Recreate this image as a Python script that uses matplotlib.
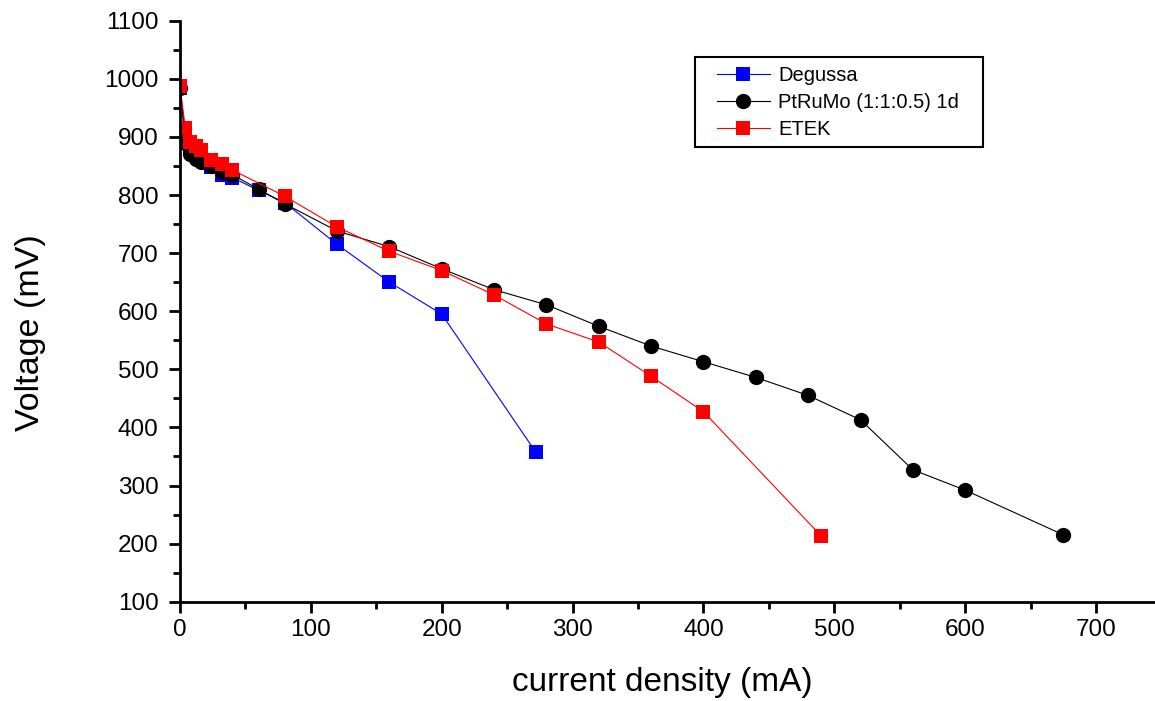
import matplotlib
matplotlib.use("Agg")
import matplotlib.pyplot as plt
from matplotlib.patches import Rectangle
from matplotlib.ticker import MultipleLocator

plt.rcParams["font.family"] = ["Liberation Sans", "DejaVu Sans"]

# Degussa
degussa_x = [0, 4, 8, 12, 16, 24, 32, 40, 60, 80, 120, 160, 200, 272]
degussa_y = [984, 905, 885, 872, 862, 848, 835, 830, 808, 787, 715, 650, 595, 357]

# PtRuMo (1:1:0.5) 1d
ptrumo_x = [0, 4, 8, 12, 16, 24, 32, 40, 60, 80, 120, 160, 200, 240, 280,
            320, 360, 400, 440, 480, 520, 560, 600, 675]
ptrumo_y = [985, 890, 870, 862, 856, 850, 840, 835, 810, 785, 738, 711, 673,
            637, 611, 574, 540, 513, 486, 455, 413, 327, 292, 215]

# ETEK
etek_x = [0, 4, 8, 12, 16, 24, 32, 40, 80, 120, 160, 200, 240, 280, 320,
          360, 400, 490]
etek_y = [988, 916, 892, 884, 878, 860, 853, 843, 798, 745, 703, 670, 628,
          578, 547, 488, 427, 213]

W, H = 1155, 701
fig = plt.figure(figsize=(W / 100, H / 100), dpi=100)
ax = fig.add_axes([180 / W, (H - 601.7) / H, 975 / W, 581 / H])

ax.plot(degussa_x, degussa_y, color="#0000FF", lw=0.8, marker="s", ms=10,
        mew=0, label="Degussa")
ax.plot(ptrumo_x, ptrumo_y, color="black", lw=0.8, marker="o", ms=11,
        mew=0, label="PtRuMo (1:1:0.5) 1d")
ax.plot(etek_x, etek_y, color="#FF0000", lw=0.8, marker="s", ms=10,
        mew=0, label="ETEK")

ax.set_xlim(0, 745)
ax.set_ylim(100, 1100)
ax.xaxis.set_major_locator(MultipleLocator(100))
ax.xaxis.set_minor_locator(MultipleLocator(50))
ax.yaxis.set_major_locator(MultipleLocator(100))
ax.yaxis.set_minor_locator(MultipleLocator(50))

for side in ("top", "right"):
    ax.spines[side].set_visible(False)
for side in ("left", "bottom"):
    ax.spines[side].set_linewidth(2.0)

ax.tick_params(which="major", direction="out", length=8, width=2.0,
               labelsize=17.5)
ax.tick_params(which="minor", direction="out", length=5, width=2.0)
ax.tick_params(axis="x", which="major", pad=4.5)
ax.tick_params(axis="y", which="major", pad=7.5)

fig.text(662 / W, 1 - 682 / H, "current density (mA)", fontsize=24,
         ha="center", va="center")
fig.text(30 / W, 1 - 333 / H, "Voltage (mV)", fontsize=24.5, rotation=90,
         ha="center", va="center")

leg = ax.legend(loc="upper left", bbox_to_anchor=(717 / W, 1 - 66 / H),
                bbox_transform=fig.transFigure, frameon=False, fontsize=14.5,
                borderpad=0, borderaxespad=0, handlelength=2.63,
                handletextpad=0.4, labelspacing=0.4)
fig.patches.append(Rectangle((695 / W, 1 - 147 / H), 288 / W, 90 / H,
                             transform=fig.transFigure, fill=False,
                             edgecolor="black", linewidth=1.5))

fig.savefig("out.png", dpi=100)
plt.close(fig)
